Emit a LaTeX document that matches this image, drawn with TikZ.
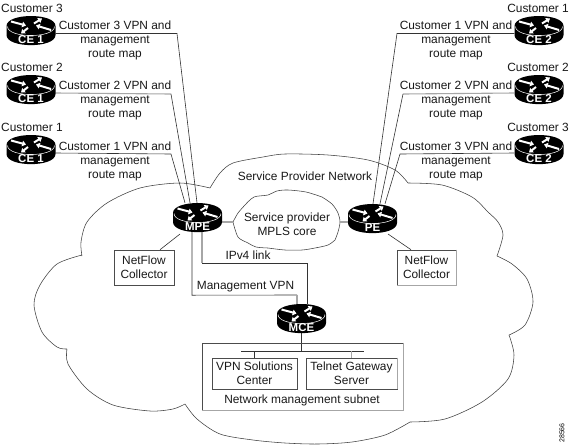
\documentclass[tikz,border=0pt]{standalone}
\usepackage{fontspec}
\setmainfont{Liberation Sans}
\usetikzlibrary{arrows.meta,backgrounds}
\tikzset{
  txt/.style={inner sep=0pt,align=center,font=\fontsize{11.9}{14}\selectfont,text=black!90},
  rlabel/.style={inner sep=0pt,text=white,fill=black,font=\fontsize{11.5}{12}\selectfont\bfseries},
  rbox/.style={inner sep=0pt,minimum width=49pt,minimum height=29pt},
  rarrow/.style={white,line width=2pt,-{Triangle[width=5.6pt,length=3.8pt]}},
  thinline/.style={draw=black!80,line width=0.6pt},
  grayline/.style={draw=black!35,line width=1.1pt},
  cloudline/.style={draw=black!75,line width=0.55pt},
  boxed/.style={draw=black!70,line width=0.6pt,inner sep=0pt},
}
\newcommand{\rtr}[4]{%
  \begin{scope}[shift={(#2,#3)}]
    \fill[black] (-24.5,0) -- (-24.5,9) .. controls (-24.5,22.5) and (24.5,22.5) .. (24.5,9) -- (24.5,0) .. controls (24.5,-13.3) and (-24.5,-13.3) .. (-24.5,0) -- cycle;
    \draw[white,line width=0.5pt] (-23.5,0.5) .. controls (-23.5,12.5) and (23.5,12.5) .. (23.5,0.5);
    \draw[rarrow] (-20,-4.5) -- (-5,-0.5);
    \draw[rarrow] (20,4) -- (5,-0.5);
    \draw[rarrow] (3,-2.5) -- (11,-7.5);
    \draw[rarrow] (-3,2) -- (-10,7.5);
  \end{scope}
  \node[rbox] (#1) at (#2,#3+4.5) {};
  \node[rlabel] (#1l) at (#2,#3+14) {#4};
}
\begin{document}
\begin{tikzpicture}[x=1pt,y=-1pt]
\useasboundingbox (0,0) rectangle (570,445);

% routers
\rtr{ceA}{31}{26}{CE 1}
\rtr{ceB}{31}{85}{CE 1}
\rtr{ceC}{31}{145}{CE 1}
\rtr{ceD}{539}{26}{CE 2}
\rtr{ceE}{539}{85}{CE 2}
\rtr{ceF}{539}{145}{CE 2}
\rtr{mpe}{197.5}{213}{MPE}
\rtr{pe}{372.5}{214}{PE}
\rtr{mce}{301.5}{314}{MCE}

% customer names
\node[txt,anchor=west] (c3l) at (1,8) {Customer 3};
\node[txt,anchor=west] (c2l) at (1,67) {Customer 2};
\node[txt,anchor=west] (c1l) at (1,127) {Customer 1};
\node[txt,anchor=east] (c1r) at (569,8) {Customer 1};
\node[txt,anchor=east] (c2r) at (569,67) {Customer 2};
\node[txt,anchor=east] (c3r) at (569,127) {Customer 3};

% route map labels
\node[txt] (m3l) at (115,40) {Customer 3 VPN and\\management\\route map};
\node[txt] (m2l) at (115,100) {Customer 2 VPN and\\management\\route map};
\node[txt] (m1l) at (115,161) {Customer 1 VPN and\\management\\route map};
\node[txt] (m1r) at (456,40) {Customer 1 VPN and\\management\\route map};
\node[txt] (m2r) at (456,100) {Customer 2 VPN and\\management\\route map};
\node[txt] (m3r) at (456,161) {Customer 3 VPN and\\management\\route map};

\node[txt] (spn) at (305,176) {Service Provider Network};
\node[txt] (core) at (287,224.5) {Service provider\\MPLS core};
\node[txt] (ipv) at (248,255) {IPv4 link};
\node[txt] (mvpn) at (245.5,287) {Management VPN};

% boxes
\node[boxed,minimum width=60pt,minimum height=35pt,txt] (nfl) at (144,267.5) {NetFlow\\Collector};
\node[boxed,minimum width=59pt,minimum height=35pt,txt] (nfr) at (426.5,267.5) {NetFlow\\Collector};
\node[boxed,minimum width=201pt,minimum height=67pt] (sub) at (302.5,376.5) {};
\node[boxed,minimum width=85pt,minimum height=31pt,txt] (vpn) at (254.5,373.5) {VPN Solutions\\Center};
\node[boxed,minimum width=91pt,minimum height=31pt,txt] (tel) at (351.5,373.5) {Telnet Gateway\\Server};
\node[txt] (subl) at (302,400) {Network management subnet};
\node[inner sep=0pt,rotate=90,font=\fontsize{7}{8}\selectfont] (num) at (562,433) {28566};

\coordinate (cw) at (233,222);
\coordinate (ce) at (340,222);
\coordinate (busl) at (241,351);
\coordinate (busr) at (364,351);

\begin{pgfonlayer}{background}
\fill[white] (0,0) rectangle (570,445);
% outer cloud
\draw[cloudline]
 plot[smooth] coordinates {(210,188) (180,183) (140,188) (107,203) (87,222) (81,242) (82,256)}
 plot[smooth] coordinates {(82,255) (57,264) (40,285) (34,305) (42,332) (57,347) (67,349)}
 plot[smooth] coordinates {(67,349) (68,364) (87,389) (113,405) (150,411) (173,409) (185,404)}
 plot[smooth] coordinates {(185,404) (197,419) (220,434) (253,440) (285,443) (318,444) (352,442) (385,435) (410,422)}
 plot[smooth] coordinates {(410,422) (445,419) (482,402) (508,379) (514,355) (509,335)}
 plot[smooth] coordinates {(509,335) (525,325) (533,302) (527,279) (512,264) (497,256)}
 plot[smooth] coordinates {(497,256) (503,235) (498,222) (488,212) (472,197) (442,185) (408,183)}
 plot[smooth] coordinates {(408,183) (395,170) (368,160) (328,155) (285,154) (263,157) (233,163) (220,173) (210,188)};
% inner cloud
\draw[cloudline]
 plot[smooth] coordinates {(233,222) (238,213) (245,205)}
 plot[smooth] coordinates {(245,205) (254,197) (268,195) (277,191) (288,190) (306,192) (322,197)}
 plot[smooth] coordinates {(322,197) (332,204) (338,213) (340,222) (338,232) (335,240)}
 plot[smooth] coordinates {(335,240) (328,245) (315,248) (302,250) (285,250) (268,248)}
 plot[smooth] coordinates {(268,248) (256,247) (248,243) (238,237) (233,222)};

% connectors left
\draw[thinline] ([yshift=-3pt]ceA.east) -- (177,33.5) -- ([xshift=-0.5pt]mpe.north);
\draw[grayline] ([yshift=-3.5pt]ceB.east) -- (171,94);
\draw[thinline] (171,94) -- ([xshift=-7.5pt]mpe.north);
\draw[thinline] ([yshift=-3.5pt]ceC.east) -- (171,154) -- ([xshift=-12.5pt]mpe.north);
% connectors right
\draw[thinline] ([yshift=-3pt]ceD.west) -- (397,33.5) -- ([xshift=0.5pt]pe.north);
\draw[grayline] ([yshift=-3.5pt]ceE.west) -- (403,94);
\draw[thinline] (403,94) -- ([xshift=7.5pt]pe.north);
\draw[thinline] ([yshift=-3.5pt]ceF.west) -- (400,154) -- ([xshift=12.5pt]pe.north);
% core links
\draw[grayline] (mpe.east |- cw) -- (cw);
\draw[grayline] (ce) -- (pe.west |- ce);
% MPE to MCE
\draw[thinline] ([xshift=-5.5pt]mpe.south) -- ++(0,295-232) -- (297,295);
\draw[grayline] (297,295) -- ([xshift=-4.5pt]mce.north);
\draw[grayline] ([xshift=4.5pt]mpe.south) -- (202,263);
\draw[thinline] (202,263) -- (307,263) -- ([xshift=5.5pt]mce.north);
% NetFlow
\draw[thinline] (180,234) -- ([xshift=16pt]nfl.north);
\draw[thinline] (388,234) -- ([xshift=-15.5pt]nfr.north);
% bus
\draw[thinline] (mce.south) -- (mce.south |- busl);
\draw[thinline] (busl) -- (busr);
\draw[thinline] (vpn.north |- busl) -- (vpn.north);
\draw[grayline] (tel.north |- busr) -- (tel.north);
\end{pgfonlayer}
% gray box edges
\draw[grayline] (nfr.north east) -- (nfr.south east) -- (nfr.south west);
\draw[grayline] (sub.north east) -- (sub.south east) -- (sub.south west);
\draw[grayline] (tel.north east) -- (tel.south east);
\end{tikzpicture}
\end{document}
